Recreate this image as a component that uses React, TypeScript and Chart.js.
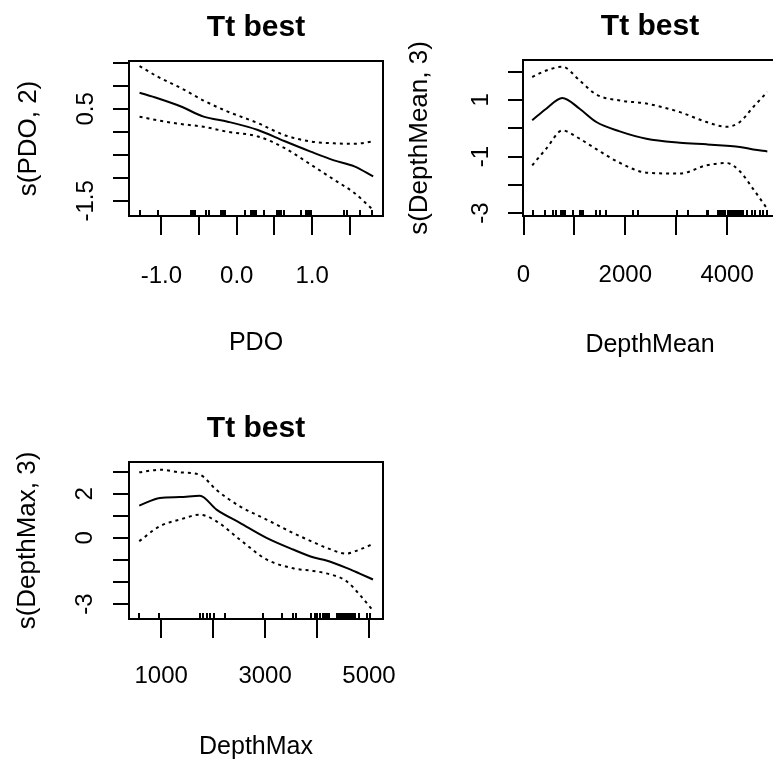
import { useEffect, useRef } from "react";
import { Chart, registerables } from "chart.js";

Chart.register(...registerables);

const FONT = '"Liberation Sans", Arial, Helvetica, sans-serif';

// ---------- Panel 1: PDO ----------
const pdoX = [-1.29, -1.05, -0.74, -0.44, -0.12, 0.28, 0.63, 0.98, 1.29, 1.56, 1.81];
const pdoFit = [0.85, 0.73, 0.55, 0.33, 0.22, 0.04, -0.2, -0.43, -0.62, -0.75, -0.97];
const pdoUpper = [1.43, 1.2, 0.95, 0.68, 0.44, 0.19, -0.07, -0.21, -0.25, -0.26, -0.21];
const pdoLower = [0.33, 0.25, 0.17, 0.11, 0.0, -0.1, -0.35, -0.71, -1.04, -1.33, -1.7];
const pdoRug = [-1.29, -1.05, -0.61, -0.59, -0.57, -0.55, -0.41, -0.37, -0.21, -0.19, -0.17, -0.15, 0.11, 0.19, 0.21, 0.23, 0.25, 0.36, 0.53, 0.55, 0.57, 0.59, 0.62, 0.85, 0.92, 0.94, 0.96, 0.98, 1.42, 1.46, 1.64, 1.8];
const pdoXTicks = [-1, -0.5, 0, 0.5, 1, 1.5];
const pdoXLabels = ["-1.0", "", "0.0", "", "1.0", ""];
const pdoYTicks = [-1.5, -1, -0.5, 0, 0.5, 1, 1.5];
const pdoYLabels = ["-1.5", "", "", "", "0.5", "", ""];

// ---------- Panel 2: DepthMean ----------
const dmeanX = [171, 447, 762, 1102, 1431, 1890, 2415, 3071, 3596, 3990, 4250, 4514, 4790];
const dmeanFit = [0.28, 0.69, 1.07, 0.69, 0.22, -0.11, -0.37, -0.51, -0.57, -0.62, -0.66, -0.75, -0.82];
const dmeanUpper = [1.81, 2.04, 2.17, 1.69, 1.19, 0.98, 0.87, 0.57, 0.22, 0.05, 0.22, 0.75, 1.28];
const dmeanLower = [-1.31, -0.72, -0.08, -0.37, -0.74, -1.22, -1.57, -1.6, -1.31, -1.23, -1.52, -2.15, -2.85];
const dmeanRug = [183, 413, 577, 643, 742, 768, 790, 807, 970, 1102, 1135, 1167, 1431, 1496, 1614, 2152, 2250, 3006, 3234, 3596, 3620, 3825, 3858, 3891, 3923, 3960, 4022, 4055, 4087, 4120, 4153, 4186, 4218, 4251, 4284, 4317, 4384, 4482, 4547, 4646, 4711, 4778];
const dmeanXTicks = [0, 1000, 2000, 3000, 4000];
const dmeanXLabels = ["0", "", "2000", "", "4000"];
const dmeanYTicks = [-3, -2, -1, 0, 1, 2];
const dmeanYLabels = ["-3", "", "-1", "", "1", ""];

// ---------- Panel 3: DepthMax ----------
const dmaxX = [577, 975, 1360, 1745, 2065, 2515, 3027, 3540, 3923, 4180, 4565, 4821, 5077];
const dmaxFit = [1.46, 1.81, 1.85, 1.91, 1.28, 0.68, 0.0, -0.53, -0.88, -1.03, -1.36, -1.62, -1.89];
const dmaxUpper = [2.97, 3.09, 2.97, 2.86, 2.17, 1.43, 0.83, 0.22, -0.19, -0.45, -0.71, -0.53, -0.28];
const dmaxLower = [-0.15, 0.53, 0.83, 1.05, 0.75, -0.08, -0.98, -1.38, -1.5, -1.61, -1.96, -2.58, -3.3];
const dmaxRug = [577, 962, 1744, 1808, 1885, 1937, 2019, 2225, 2962, 3335, 3538, 3604, 3892, 3955, 4000, 4052, 4110, 4150, 4190, 4240, 4380, 4420, 4460, 4500, 4540, 4580, 4620, 4660, 4700, 4725, 4808, 4962, 5027];
const dmaxXTicks = [1000, 2000, 3000, 4000, 5000];
const dmaxXLabels = ["1000", "", "3000", "", "5000"];
const dmaxYTicks = [-3, -2, -1, 0, 1, 2, 3];
const dmaxYLabels = ["-3", "", "", "0", "", "2", ""];

const panelTitle = "Tt best";

type Panel = {
  x: number[]; fit: number[]; upper: number[]; lower: number[]; rug: number[];
  xTicks: number[]; xLabels: string[]; yTicks: number[]; yLabels: string[];
  xMin: number; xMax: number; yMin: number; yMax: number;
  xTitle: string; yTitle: string;
  left: number; top: number; areaH: number;
  xLabelGap: number; xTitleGap: number; yLabelOff: number; yTitleOff: number; yTickLen: number;
};

const panels: Panel[] = [
  {
    x: pdoX, fit: pdoFit, upper: pdoUpper, lower: pdoLower, rug: pdoRug,
    xTicks: pdoXTicks, xLabels: pdoXLabels, yTicks: pdoYTicks, yLabels: pdoYLabels,
    xMin: -1.43, xMax: 1.94, yMin: -1.83, yMax: 1.54,
    xTitle: "PDO", yTitle: "s(PDO, 2)",
    left: 0, top: 0, areaH: 155, xLabelGap: 60, xTitleGap: 127, yLabelOff: 43, yTitleOff: 100, yTickLen: 16,
  },
  {
    x: dmeanX, fit: dmeanFit, upper: dmeanUpper, lower: dmeanLower, rug: dmeanRug,
    xTicks: dmeanXTicks, xLabels: dmeanXLabels, yTicks: dmeanYTicks, yLabels: dmeanYLabels,
    xMin: -10, xMax: 4980, yMin: -3.1, yMax: 2.41,
    xTitle: "DepthMean", yTitle: "s(DepthMean, 3)",
    left: 394, top: -1, areaH: 156, xLabelGap: 59, xTitleGap: 129, yLabelOff: 42, yTitleOff: 103, yTickLen: 15,
  },
  {
    x: dmaxX, fit: dmaxFit, upper: dmaxUpper, lower: dmaxLower, rug: dmaxRug,
    xTicks: dmaxXTicks, xLabels: dmaxXLabels, yTicks: dmaxYTicks, yLabels: dmaxYLabels,
    xMin: 380, xMax: 5270, yMin: -3.68, yMax: 3.44,
    xTitle: "DepthMax", yTitle: "s(DepthMax, 3)",
    left: 0, top: 401, areaH: 157, xLabelGap: 57, xTitleGap: 128, yLabelOff: 44, yTitleOff: 101, yTickLen: 16,
  },
];

const CW = 512;
const SIDE = 129;
const TITLE_BOX = 61;
const XAXIS_H = 164;
const X_TICK_LEN = 19;
const TICK_SIZE = 24;
const XTITLE_SIZE = 25;
const YTITLE_SIZE = 26;

function labelFor(values: number[], labels: string[], v: number) {
  for (let i = 0; i < values.length; i++) if (Math.abs(values[i] - v) < 1e-9) return labels[i];
  return "";
}

function PanelChart({ p }: { p: Panel }) {
  const ref = useRef<HTMLCanvasElement>(null);
  const ch = TITLE_BOX + p.areaH + XAXIS_H;

  useEffect(() => {
    const canvas = ref.current!;
    const mctx = document.createElement("canvas").getContext("2d")!;
    mctx.font = `${TICK_SIZE}px ${FONT}`;
    const widest = Math.max(...p.yLabels.map((l) => mctx.measureText(l).width));
    const yPad = p.yLabelOff - p.yTickLen - widest / 2;
    const xPad = p.xLabelGap - X_TICK_LEN - (TICK_SIZE * 1.2) / 2;
    const xTitlePad = XAXIS_H - p.xTitleGap - (XTITLE_SIZE * 1.2) / 2;
    const yTitlePad = SIDE - p.yTitleOff - (YTITLE_SIZE * 1.2) / 2;

    const pts = (ys: number[]) => p.x.map((x, i) => ({ x, y: ys[i] }));
    const zeroPad = (s: any) => {
      s.paddingLeft = 0; s.paddingRight = 0; s.paddingTop = 0; s.paddingBottom = 0;
    };

    const boxPlugin = {
      id: "rbox",
      afterDraw(chart: any) {
        const { ctx, chartArea: a } = chart;
        ctx.save();
        ctx.strokeStyle = "#000";
        ctx.lineWidth = 2;
        ctx.strokeRect(a.left, a.top, a.right - a.left, a.bottom - a.top);
        ctx.restore();
      },
    };
    const rugPlugin = {
      id: "rug",
      afterDatasetsDraw(chart: any) {
        const { ctx, chartArea: a } = chart;
        const xs = chart.scales.x;
        ctx.save();
        ctx.strokeStyle = "#000";
        ctx.lineWidth = 2;
        ctx.beginPath();
        for (const v of p.rug) {
          const px = Math.round(xs.getPixelForValue(v));
          ctx.moveTo(px, a.bottom);
          ctx.lineTo(px, a.bottom - 6);
        }
        ctx.stroke();
        ctx.restore();
      },
    };

    const line = (data: any, dashed: boolean) => ({
      data,
      borderColor: "#000",
      borderWidth: 2,
      borderDash: dashed ? [3, 4] : [],
      pointRadius: 0,
      fill: false,
      cubicInterpolationMode: "monotone" as const,
    });

    const chart = new Chart(canvas, {
      type: "line",
      data: {
        datasets: [line(pts(p.fit), false), line(pts(p.upper), true), line(pts(p.lower), true)],
      },
      plugins: [boxPlugin, rugPlugin],
      options: {
        animation: false,
        responsive: false,
        devicePixelRatio: 1,
        layout: { padding: 0 },
        plugins: {
          legend: { display: false },
          tooltip: { enabled: false },
          title: {
            display: true,
            text: panelTitle,
            color: "#000",
            font: { family: FONT, size: 30, weight: "bold" },
            padding: { top: 10, bottom: 15 },
          },
        },
        scales: {
          x: {
            type: "linear",
            position: "bottom",
            min: p.xMin,
            max: p.xMax,
            afterBuildTicks: (s: any) => { s.ticks = p.xTicks.map((v) => ({ value: v })); },
            afterFit: (s: any) => { s.height = XAXIS_H; zeroPad(s); },
            grid: { display: true, drawOnChartArea: false, drawTicks: true, tickLength: X_TICK_LEN, lineWidth: 2, color: "#000" },
            border: { display: false },
            ticks: {
              autoSkip: false, maxRotation: 0, minRotation: 0, padding: xPad, color: "#000",
              font: { family: FONT, size: TICK_SIZE },
              callback: (v: any) => labelFor(p.xTicks, p.xLabels, Number(v)),
            },
            title: {
              display: true, text: p.xTitle, color: "#000",
              font: { family: FONT, size: XTITLE_SIZE },
              padding: { top: 0, bottom: xTitlePad },
            },
          },
          y: {
            type: "linear",
            position: "left",
            min: p.yMin,
            max: p.yMax,
            afterBuildTicks: (s: any) => { s.ticks = p.yTicks.map((v) => ({ value: v })); },
            afterFit: (s: any) => { s.width = SIDE; zeroPad(s); },
            grid: { display: true, drawOnChartArea: false, drawTicks: true, tickLength: p.yTickLen, lineWidth: 2, color: "#000" },
            border: { display: false },
            ticks: {
              autoSkip: false, minRotation: 90, maxRotation: 90, crossAlign: "center", padding: yPad, color: "#000",
              font: { family: FONT, size: TICK_SIZE },
              callback: (v: any) => labelFor(p.yTicks, p.yLabels, Number(v)),
            },
            title: {
              display: true, text: p.yTitle, color: "#000",
              font: { family: FONT, size: YTITLE_SIZE },
              padding: { top: yTitlePad, bottom: 0 },
            },
          },
          y2: {
            type: "linear",
            position: "right",
            display: true,
            min: 0,
            max: 1,
            afterFit: (s: any) => { s.width = SIDE; zeroPad(s); },
            grid: { display: false },
            border: { display: false },
            ticks: { display: false },
          },
        },
      } as any,
    });
    return () => chart.destroy();
  }, []);

  return (
    <canvas
      ref={ref}
      width={CW}
      height={ch}
      style={{ position: "absolute", left: p.left, top: p.top, width: CW, height: ch }}
    />
  );
}

export default function App() {
  return (
    <div
      style={{
        position: "absolute",
        left: 0,
        top: 0,
        width: 773,
        height: 763,
        overflow: "hidden",
        background: "#fff",
      }}
    >
      {panels.map((p, i) => (
        <PanelChart key={i} p={p} />
      ))}
    </div>
  );
}
